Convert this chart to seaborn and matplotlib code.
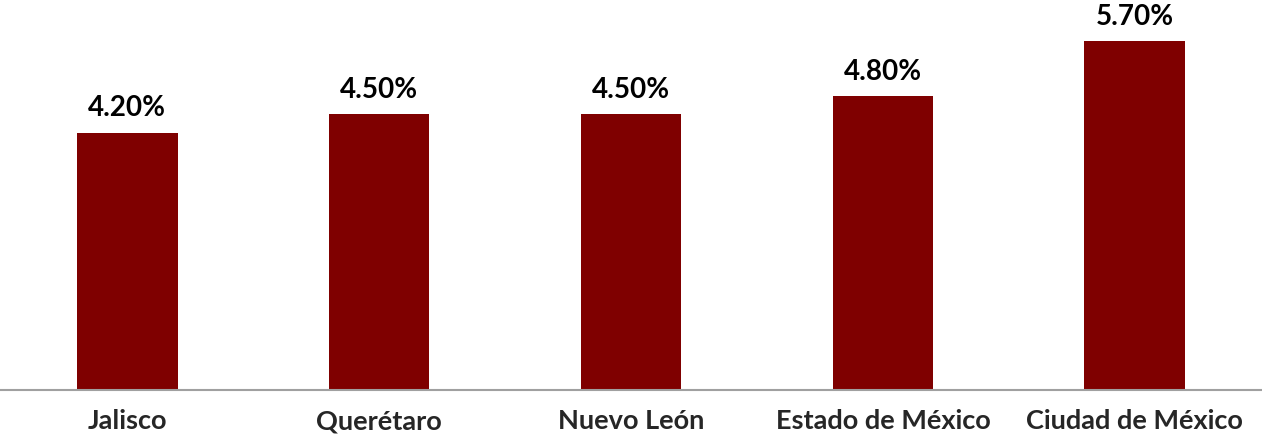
import matplotlib
matplotlib.use("Agg")
import matplotlib.pyplot as plt
import seaborn as sns
import pandas as pd

# === Data ===
estados = ["Jalisco", "Querétaro", "Nuevo León", "Estado de México", "Ciudad de México"]
valores = [4.2, 4.5, 4.5, 4.8, 5.7]
etiquetas = ["4.20%", "4.50%", "4.50%", "4.80%", "5.70%"]

df = pd.DataFrame({"estado": estados, "valor": valores})

sns.set_style("white")
plt.rcParams["font.family"] = ["Lato", "DejaVu Sans"]

# === Plot ===
fig = plt.figure(figsize=(12.62, 4.41), dpi=100)
ax = fig.add_axes([0.001, 51 / 441, 0.998, 390 / 441])
sns.barplot(data=df, x="estado", y="valor", color="#7f0000", saturation=1,
            width=0.4, linewidth=0, ax=ax)

ax.set_ylim(0, 6.37)
ax.set_xlim(-0.5, 4.5)

for i, (v, t) in enumerate(zip(valores, etiquetas)):
    ax.text(i, v + 0.40, t, ha="center", va="center", fontsize=20,
            fontweight="bold", color="black")

# === Axes styling ===
for s in ["top", "right", "left"]:
    ax.spines[s].set_visible(False)
ax.spines["bottom"].set_color("#a0a0a0")
ax.spines["bottom"].set_linewidth(1.5)
ax.set_yticks([])
ax.set_xlabel("")
ax.set_ylabel("")
ax.tick_params(axis="x", length=0, pad=14, labelsize=19.5)
for lbl in ax.get_xticklabels():
    lbl.set_fontweight("bold")

fig.savefig("out.png", dpi=100)
